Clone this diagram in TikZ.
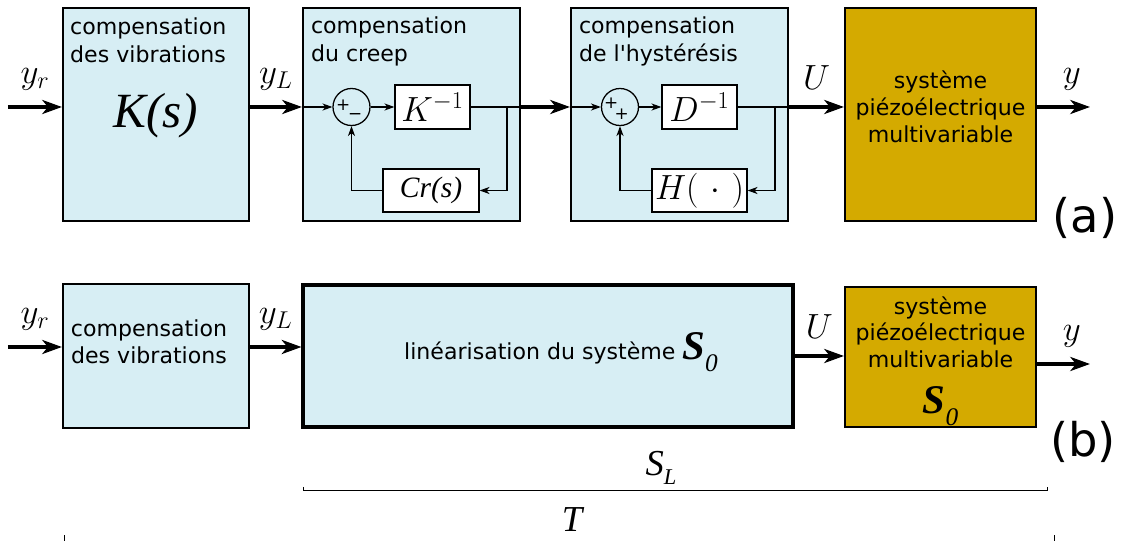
\documentclass[tikz,border=0pt]{standalone}
\usepackage[no-math]{fontspec}
\setmainfont{DejaVu Sans}
\newfontfamily\tnr{Liberation Serif}
\usetikzlibrary{arrows.meta, positioning, calc}
\definecolor{Bleuclair}{RGB}{215,238,244}
\definecolor{Orpiezo}{RGB}{212,170,0}
\newcommand{\Szero}{{\tnr\bfseries\itshape\fontsize{29}{29}\selectfont S}\raisebox{-8.5pt}{\tnr\itshape\fontsize{18}{18}\selectfont 0}}

\begin{document}
\begin{tikzpicture}[
  blocbleu/.style={rectangle, draw=black, line width=1.5pt, fill=Bleuclair, inner sep=0pt},
  blocor/.style={rectangle, draw=black, line width=1.5pt, fill=Orpiezo, inner sep=0pt},
  blocint/.style={rectangle, draw=black, line width=0.9pt, fill=white, inner sep=0pt},
  somme/.style={circle, draw=black, line width=0.9pt, minimum size=0.925cm, inner sep=0pt},
  sig/.style={-{Stealth[length=14pt, width=10pt, inset=4pt]}, line width=2.3pt},
  fil/.style={line width=0.9pt},
  filfl/.style={fil, -{Stealth[length=7pt, width=5pt, inset=2pt]}},
  titre/.style={anchor=north west, align=left, inner sep=0pt, font=\fontsize{15.7}{19.9}\selectfont},
  texte/.style={align=center, inner sep=0pt, font=\fontsize{15.7}{19}\selectfont},
  sigl/.style={inner sep=0pt, font=\fontsize{26}{30}\selectfont},
  signe/.style={inner sep=0pt, font=\fontsize{12}{12}\selectfont},
  lettre/.style={inner sep=0pt, font=\fontsize{33}{36}\selectfont},
  grand/.style={inner sep=0pt, font=\tnr\itshape\fontsize{26}{30}\selectfont}
]

\useasboundingbox (0,0) rectangle (28.1,13.5);

%% --- (a) : blocs ---
\node[blocbleu, minimum width=4.65cm, minimum height=5.325cm] (vibA) at (3.9, 10.6375) {};
\node[blocbleu, minimum width=5.425cm, minimum height=5.325cm] (creepA) at (10.2875, 10.6375) {};
\node[blocbleu, minimum width=5.425cm, minimum height=5.325cm] (hystA) at (16.9875, 10.6375) {};
\node[blocor, minimum width=4.775cm, minimum height=5.325cm] (piezoA) at (23.5125, 10.6375) {};

\node[titre] (tvibA) at ($(vibA.north west)+(0.2,-0.26)$) {compensation\\des vibrations};
\node[titre] (tcreepA) at ($(creepA.north west)+(0.22,-0.24)$) {compensation\\du creep};
\node[titre] (thystA) at ($(hystA.north west)+(0.22,-0.24)$) {compensation\\de l\textquotesingle hystérésis};
\node[inner sep=0pt, font=\tnr\itshape\fontsize{35}{40}\selectfont] (ksA) at (3.9, 10.6) {K(s)};
\node[texte] (tpiezoA) at (23.5125, 10.825) {système\\piézoélectrique\\multivariable};

%% --- boucle du creep ---
\node[somme] (sumA) at (8.7875, 10.825) {};
\node[signe] (pA1) at ($(sumA)+(-0.21,0.04)$) {+};
\node[signe] (mA2) at ($(sumA)+(0.09,-0.25)$) {−};
\node[blocint, sigl, minimum width=1.875cm, minimum height=1.1cm] (kinv) at (10.8125, 10.825) {$K^{-1}$};
\node[blocint, minimum width=2.4cm, minimum height=1.075cm,
      font=\tnr\itshape\fontsize{21}{24}\selectfont] (crA) at (10.775, 8.7375) {Cr(s)};

%% --- boucle de l'hysteresis ---
\node[somme] (sumB) at (15.5, 10.825) {};
\node[signe] (pB1) at ($(sumB)+(-0.22,0.09)$) {+};
\node[signe] (pB2) at ($(sumB)+(0.04,-0.19)$) {+};
\node[blocint, sigl, minimum width=1.875cm, minimum height=1.1cm] (dinv) at (17.4875, 10.825) {$D^{-1}$};
\node[blocint, sigl, minimum width=2.375cm, minimum height=1.075cm] (hB) at (17.4875, 8.7375) {$H(\ \cdot\ )$};

\coordinate (inA) at (0.2, 10.825);
\coordinate (outA) at (27.25, 10.825);
\coordinate (brA) at (12.675, 10.825);
\coordinate (brB) at (19.375, 10.825);

%% --- (a) : fleches ---
\draw[sig] (inA) -- (inA -| vibA.west) node[midway, above=11pt, sigl] (lyrA) {$y_r$};
\draw[sig] (inA -| vibA.east) -- (inA -| creepA.west) node[midway, above=11pt, sigl] (lyLA) {$y_L$};
\draw[filfl] (inA -| creepA.west) -- (sumA.west);
\draw[filfl] (sumA.east) -- (kinv.west);
\draw[fil] (kinv.east) -- (kinv.east -| creepA.east);
\draw[filfl] (brA) |- (crA.east);
\draw[filfl] (crA.west) -| (sumA.south);
\draw[sig] (kinv.east -| creepA.east) -- (kinv.east -| hystA.west);
\draw[filfl] (inA -| hystA.west) -- (sumB.west);
\draw[filfl] (sumB.east) -- (dinv.west);
\draw[fil] (dinv.east) -- (dinv.east -| hystA.east);
\draw[filfl] (brB) |- (hB.east);
\draw[filfl] (hB.west) -| (sumB.south);
\draw[sig] (dinv.east -| hystA.east) -- (dinv.east -| piezoA.west) node[midway, above=11pt, sigl] (lUA) {$U$};
\draw[sig] (inA -| piezoA.east) -- (outA) node[midway, above=11pt, xshift=6pt, sigl] (lyA) {$y$};
\node[lettre] (labA) at (27.125, 8.05) {(a)};

%% --- (b) : blocs ---
\node[blocbleu, minimum width=4.65cm, minimum height=3.6cm] (vibB) at (3.9, 4.6) {};
\node[blocbleu, line width=2.2pt, minimum width=12.25cm, minimum height=3.55cm] (linB) at (13.7, 4.6) {};
\node[blocor, minimum width=4.775cm, minimum height=3.5cm] (piezoB) at (23.5125, 4.575) {};
\node[texte] (tvibB) at (3.725, 4.95) {compensation\\des vibrations};
\node[texte] (tlinB) at (14.025, 4.7) {linéarisation du système \Szero};
\node[texte] (tpiezoB) at (23.5125, 4.475) {système\\piézoélectrique\\multivariable\\[12pt]\Szero};

\coordinate (inB) at (0.2, 4.825);
\coordinate (outB) at (27.25, 4.4);

%% --- (b) : fleches ---
\draw[sig] (inB) -- (inB -| vibB.west) node[midway, above=11pt, sigl] (lyrB) {$y_r$};
\draw[sig] (inB -| vibB.east) -- (inB -| linB.west) node[midway, above=11pt, sigl] (lyLB) {$y_L$};
\draw[sig] (linB.east) -- (piezoB.west |- linB.east) node[midway, above=11pt, sigl] (lUB) {$U$};
\draw[sig] (outB -| piezoB.east) -- (outB) node[midway, above=11pt, xshift=6pt, sigl] (lyB) {$y$};
\node[lettre] (labB) at (27.075, 2.45) {(b)};

%% --- accolades S_L et T ---
\draw[line width=0.7pt] (7.575,1.33) -- (7.575,1.23) -- (26.175,1.23) -- (26.175,1.33);
\node[grand] (lSL) at (16.525, 1.8) {S\raisebox{-6pt}{\fontsize{16}{16}\selectfont L}};
\draw[line width=0.7pt] (1.6125,0.125) -- (1.6125,-0.2) -- (26.35,-0.2) -- (26.35,0.125);
\node[grand] (lT) at (14.3, 0.5) {T};

\end{tikzpicture}
\end{document}
